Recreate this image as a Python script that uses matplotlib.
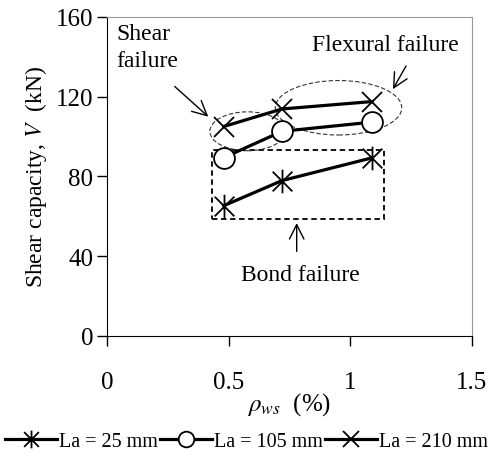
import matplotlib.pyplot as plt
from matplotlib.path import Path
from matplotlib.patches import Ellipse, Rectangle

plt.rcParams['font.family'] = ['Liberation Serif', 'DejaVu Serif']
plt.rcParams['mathtext.fontset'] = 'stix'

# donnees
rho_ws = [0.48, 0.72, 1.09]
v_la25 = [65.3, 77.9, 89.3]
v_la105 = [89.4, 102.6, 107.2]
v_la210 = [105.0, 113.8, 117.5]
labels = ['La = 25 mm', 'La = 105 mm', 'La = 210 mm']

# asterisque facon Excel : croix + barre verticale
asterisk = Path([(-1, -1), (1, 1), (-1, 1), (1, -1), (0, -1.2), (0, 1.2)],
                [Path.MOVETO, Path.LINETO, Path.MOVETO, Path.LINETO, Path.MOVETO, Path.LINETO])

fig = plt.figure(figsize=(4.93, 4.56), dpi=100)
ax = fig.add_axes([0.217, 0.261, 0.74, 0.70])

l1, = ax.plot(rho_ws, v_la25, color='black', lw=2.3, marker=asterisk, ms=17, mew=1.3)
l2, = ax.plot(rho_ws, v_la105, color='black', lw=2.3, marker='o', ms=15, mfc='white', mew=1.3)
l3, = ax.plot(rho_ws, v_la210, color='black', lw=2.3, marker='x', ms=15, mew=1.3)

# zones de rupture
ax.add_patch(Rectangle((0.43, 58.7), 0.71, 34.7, fill=False, ls=(0, (3, 2)), lw=1.3, color='black'))
ax.add_patch(Ellipse((0.578, 102.6), 0.31, 19.5, fill=False, ls=(0, (4, 2)), lw=0.8, color='#333333'))
ax.add_patch(Ellipse((0.952, 114.4), 0.52, 27.3, fill=False, ls=(0, (4, 2)), lw=0.8, color='#333333'))

arrow = dict(arrowstyle='->', color='black', lw=1.0, mutation_scale=26)
ax.annotate('', xy=(0.425, 109), xytext=(0.27, 126), arrowprops=arrow)
ax.annotate('', xy=(1.17, 122.5), xytext=(1.235, 136.5), arrowprops=arrow)
ax.annotate('', xy=(0.78, 58), xytext=(0.78, 41), arrowprops=arrow)

ax.text(0.04, 157, 'Shear\nfailure', fontsize=17, va='top', ha='left', linespacing=1.4)
ax.text(1.146, 146, 'Flexural failure', fontsize=17, va='center', ha='center')
ax.text(0.795, 31, 'Bond failure', fontsize=17, va='center', ha='center')

ax.set_xlim(0, 1.5)
ax.set_ylim(0, 160)
ax.set_xticks([0, 0.5, 1, 1.5])
ax.set_xticklabels(['0', '0.5', '1', '1.5'])
ax.set_yticks([0, 40, 80, 120, 160])
ax.tick_params(axis='both', labelsize=18, direction='out', length=7, width=1)
ax.tick_params(axis='x', pad=18)
ax.tick_params(axis='y', pad=3)
ax.spines['top'].set_color('#999999')
ax.spines['right'].set_color('#999999')
ax.set_xlabel(r'$\rho_{ws}$  (%)', fontsize=18, labelpad=-2)
ax.set_ylabel(r'Shear capacity, $V$  (kN)', fontsize=17, labelpad=5)

fig.legend([l1, l2, l3], labels, loc='center', bbox_to_anchor=(0.5, 0.03), ncol=3,
           frameon=False, fontsize=14.5, markerscale=0.75, handlelength=2.6,
           handletextpad=0.1, columnspacing=0.1, borderaxespad=0)

fig.savefig('out.png', dpi=100)
